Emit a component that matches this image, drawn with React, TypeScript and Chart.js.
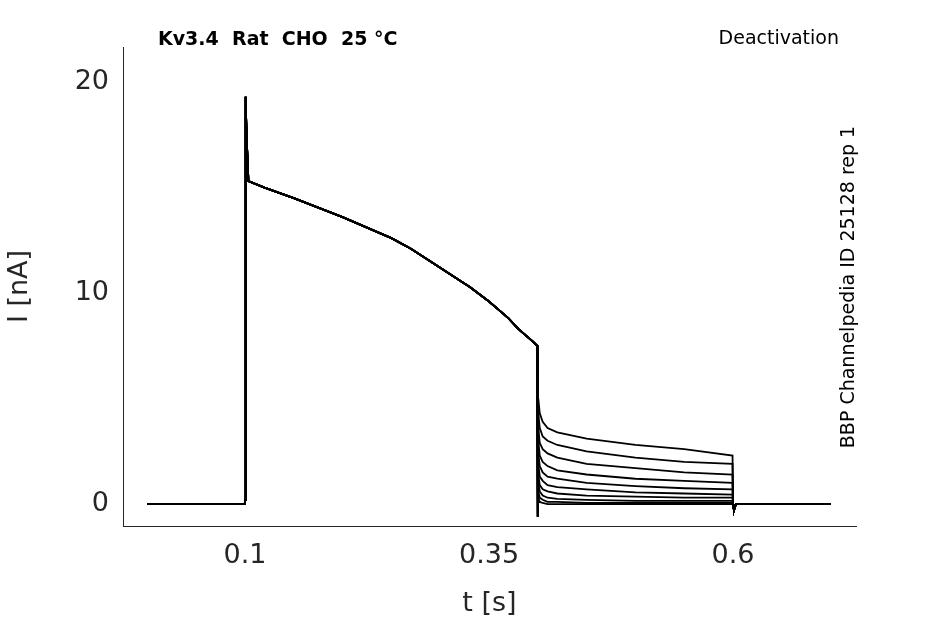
import React, { useEffect, useRef } from "react";
import { Chart, registerables } from "chart.js";
Chart.register(...registerables);

const xTicks = [0.1, 0.35, 0.6];
const yTicks = [0, 10, 20];

const pulseTimes = [0, 0.0998, 0.1, 0.1002, 0.1008, 0.101, 0.102, 0.1035, 0.12, 0.15, 0.2, 0.25, 0.27, 0.3, 0.32, 0.33, 0.35, 0.36, 0.37, 0.38, 0.39, 0.395, 0.3995, 0.4];
const pulseValues = [0, 0, 0.2, 3, 19.3, 19.0, 17.0, 15.3, 15.0, 14.5, 13.6, 12.6, 12.1, 11.2, 10.6, 10.3, 9.6, 9.2, 8.8, 8.3, 7.9, 7.7, 7.5, -0.6];

const tailTimes = [0.4005, 0.402, 0.405, 0.41, 0.42, 0.45, 0.5, 0.55, 0.5995];
const tails = [
  [5.0, 4.3, 3.9, 3.6, 3.4, 3.1, 2.8, 2.6, 2.3],
  [4.3, 3.6, 3.2, 3.0, 2.8, 2.5, 2.2, 2.0, 1.9],
  [3.6, 2.9, 2.6, 2.4, 2.2, 1.9, 1.7, 1.5, 1.4],
  [3.0, 2.3, 2.0, 1.8, 1.6, 1.4, 1.2, 1.1, 1.0],
  [2.4, 1.8, 1.5, 1.3, 1.2, 1.0, 0.85, 0.75, 0.7],
  [1.9, 1.3, 1.1, 0.9, 0.8, 0.7, 0.55, 0.5, 0.45],
  [1.4, 0.9, 0.7, 0.6, 0.5, 0.4, 0.35, 0.3, 0.3],
  [1.0, 0.6, 0.4, 0.3, 0.25, 0.2, 0.15, 0.15, 0.15],
  [0.6, 0.3, 0.2, 0.1, 0.1, 0.05, 0.05, 0.05, 0.05],
  [0.3, 0.1, 0.05, 0, 0, 0, 0, 0, 0],
];
const endTimes = [0.6, 0.601, 0.603, 0.7];
const endValues = [0, -0.3, 0, 0];

const FONT = "DejaVu Sans";

export default function App() {
  const ref = useRef<HTMLCanvasElement>(null);
  useEffect(() => {
    document.body.style.margin = "0";
    const datasets = tails.map((tail) => {
      const pts: { x: number; y: number }[] = [];
      pulseTimes.forEach((t, i) => pts.push({ x: t, y: pulseValues[i] }));
      tailTimes.forEach((t, i) => pts.push({ x: t, y: tail[i] }));
      endTimes.forEach((t, i) => pts.push({ x: t, y: endValues[i] }));
      return { data: pts, borderColor: "#000", borderWidth: 1.8, pointRadius: 0, tension: 0, fill: false };
    });
    const textPlugin = {
      id: "texts",
      afterDraw(c: any) {
        const ctx = c.ctx;
        ctx.save();
        ctx.fillStyle = "#000";
        ctx.textBaseline = "middle";
        ctx.font = `bold 19px ${FONT}`;
        ctx.textAlign = "left";
        ctx.fillText("Kv3.4  Rat  CHO  25 °C", 158, 40);
        ctx.font = `19px ${FONT}`;
        ctx.textAlign = "right";
        ctx.fillText("Deactivation", 839, 39);
        ctx.translate(849, 287);
        ctx.rotate(-Math.PI / 2);
        ctx.textAlign = "center";
        ctx.fillText("BBP Channelpedia ID 25128 rep 1", 0, 0);
        ctx.restore();
      },
    };
    const chart = new Chart(ref.current!, {
      type: "line",
      data: { datasets },
      plugins: [textPlugin],
      options: {
        animation: false,
        responsive: false,
        layout: { padding: { top: 47, right: 89, left: 0, bottom: 0 } },
        plugins: { legend: { display: false }, tooltip: { enabled: false } },
        scales: {
          x: {
            type: "linear",
            min: -0.025,
            max: 0.726,
            afterBuildTicks: (s: any) => { s.ticks = xTicks.map((v) => ({ value: v })); },
            afterFit: (s: any) => { s.height = 98; },
            ticks: { color: "#262626", font: { family: FONT, size: 27 }, callback: (v: any) => String(v), maxRotation: 0, padding: 14 },
            grid: { drawOnChartArea: false, drawTicks: true, tickLength: 0, color: "#262626" },
            border: { display: true, color: "#262626" },
            title: { display: true, text: "t [s]", color: "#262626", font: { family: FONT, size: 27 }, padding: { top: 0 } },
          },
          y: {
            type: "linear",
            min: -1.04,
            max: 21.66,
            afterBuildTicks: (s: any) => { s.ticks = yTicks.map((v) => ({ value: v })); },
            afterFit: (s: any) => { s.width = 123; },
            ticks: { color: "#262626", font: { family: FONT, size: 27 }, padding: 14 },
            grid: { drawOnChartArea: false, drawTicks: true, tickLength: 0, color: "#262626" },
            border: { display: true, color: "#262626" },
            title: { display: true, text: "I [nA]", color: "#262626", font: { family: FONT, size: 27 }, padding: { bottom: 0 } },
          },
        },
      },
    });
    return () => chart.destroy();
  }, []);
  return <canvas ref={ref} width={945} height={624} style={{ display: "block" }} />;
}
